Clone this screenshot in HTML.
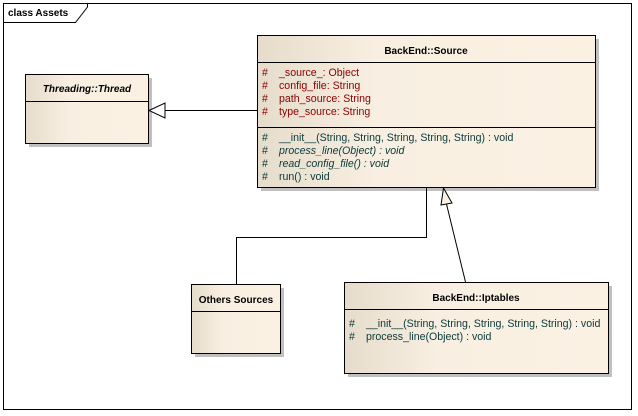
<!DOCTYPE html>
<html><head><style>
body{margin:0;width:638px;height:416px;background:#fff;overflow:hidden}
svg{display:block}
text{font-family:"Liberation Sans",Arial,sans-serif;font-size:10px}
.m{font-size:10.6px}
</style></head><body>
<svg width="638" height="416" viewBox="0 0 638 416">
<defs>
<linearGradient id="g" x1="0" x2="1" y1="0" y2="0">
<stop offset="0" stop-color="#e6dccb"/><stop offset="0.35" stop-color="#f8efe2"/><stop offset="1" stop-color="#fbf1e3"/>
</linearGradient>
</defs>
<rect x="3.5" y="3.5" width="628" height="406" fill="#fff" stroke="#000"/>
<path d="M3.5 22.5 H75.5 L87.5 7 V3.5" fill="none" stroke="#000"/>
<text x="8" y="16" font-weight="bold" font-size="10">class Assets</text>

<rect x="29" y="78" width="123" height="69" fill="#c0c0c0"/>
<rect x="261" y="39" width="338" height="152" fill="#c0c0c0"/>
<rect x="195" y="288" width="89" height="69" fill="#c0c0c0"/>
<rect x="348" y="286" width="264" height="91" fill="#c0c0c0"/>

<rect x="25.5" y="74.5" width="123" height="69" fill="url(#g)" stroke="#000"/>
<line x1="25.5" y1="101.5" x2="148.5" y2="101.5" stroke="#000"/>
<text x="87" y="92" text-anchor="middle" font-weight="bold" font-style="italic" font-size="10.5">Threading::Thread</text>

<rect x="257.5" y="35.5" width="338" height="152" fill="url(#g)" stroke="#000"/>
<line x1="257.5" y1="62.5" x2="595.5" y2="62.5" stroke="#000"/>
<line x1="257.5" y1="127.5" x2="595.5" y2="127.5" stroke="#000"/>
<text x="426" y="54" text-anchor="middle" font-weight="bold" font-size="10.5">BackEnd::Source</text>
<g fill="#8b0000" class="m" xml:space="preserve">
<text class="m" x="262" y="76">#</text><text class="m" x="279" y="76">_source_:  Object</text>
<text class="m" x="262" y="89">#</text><text class="m" x="279" y="89">config_file:  String</text>
<text class="m" x="262" y="102">#</text><text class="m" x="279" y="102">path_source:  String</text>
<text class="m" x="262" y="115">#</text><text class="m" x="279" y="115">type_source:  String</text>
</g>
<g fill="#0a3a3a">
<text class="m" x="262" y="141">#</text><text class="m" x="279" y="141">__init__(String, String, String, String, String) : void</text>
<text class="m" x="262" y="154">#</text><text class="m" x="279" y="154" font-style="italic">process_line(Object) : void</text>
<text class="m" x="262" y="167">#</text><text class="m" x="279" y="167" font-style="italic">read_config_file() : void</text>
<text class="m" x="262" y="180">#</text><text class="m" x="279" y="180">run() : void</text>
</g>

<rect x="191.5" y="284.5" width="89" height="69" fill="url(#g)" stroke="#000"/>
<line x1="191.5" y1="311.5" x2="280.5" y2="311.5" stroke="#000"/>
<text x="236" y="303" text-anchor="middle" font-weight="bold" font-size="10.5">Others Sources</text>

<rect x="344.5" y="282.5" width="264" height="91" fill="url(#g)" stroke="#000"/>
<line x1="344.5" y1="309.5" x2="608.5" y2="309.5" stroke="#000"/>
<text x="476" y="301" text-anchor="middle" font-weight="bold" font-size="10.5">BackEnd::Iptables</text>
<g fill="#0a3a3a">
<text class="m" x="349" y="327">#</text><text class="m" x="366" y="327">__init__(String, String, String, String, String) : void</text>
<text class="m" x="349" y="340">#</text><text class="m" x="366" y="340">process_line(Object) : void</text>
</g>

<path d="M257 110.5 H165" stroke="#000" fill="none"/>
<path d="M149 110.5 L165 103 L165 118 Z" fill="#fff" stroke="#000"/>
<path d="M236.5 284 V237.5 H426.5 V188" stroke="#000" fill="none"/>
<path d="M465.5 282 L446 202" stroke="#000" fill="none"/>
<path d="M443.5 188 L441 205 L452 203 Z" fill="#fbf1e3" stroke="#000"/>
</svg>
</body></html>
